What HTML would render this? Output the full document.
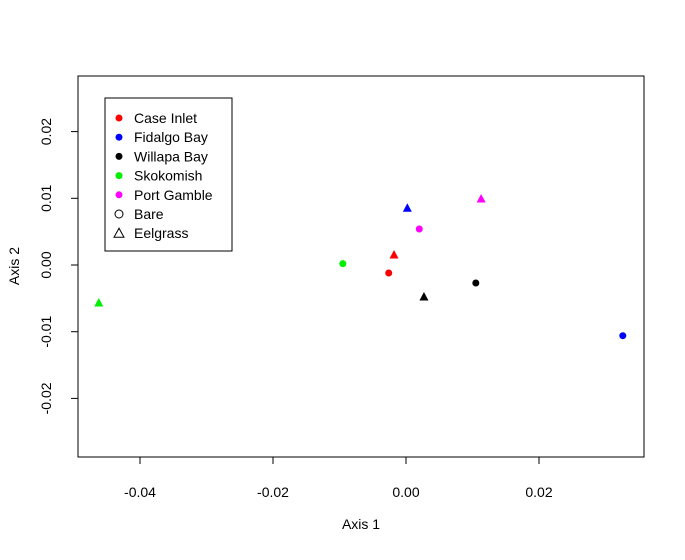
<!DOCTYPE html>
<html><head><meta charset="utf-8"><style>
body{margin:0;background:#fff}
svg text{font-family:"Liberation Sans",Arial,sans-serif;fill:#000}
</style></head><body>
<svg id="chart" width="685" height="555" xmlns="http://www.w3.org/2000/svg">
<rect x="78" y="76" width="566" height="381" fill="none" stroke="#000" stroke-width="1"/>
<g id="xaxis"></g>
<g id="yaxis"></g>
<text x="361" y="529" font-size="14" text-anchor="middle">Axis 1</text>
<text x="19" y="266" font-size="14" text-anchor="middle" transform="rotate(-90 19 266)">Axis 2</text>
<g id="points"></g>
<g id="legend">
<rect x="105" y="98" width="127" height="153" fill="#fff" stroke="#000"/>
</g>
</svg>
<script>
const sites=["Case Inlet","Fidalgo Bay","Willapa Bay","Skokomish","Port Gamble"];
const colors=["#ff0000","#0000ff","#000000","#00ee00","#ff00ff"];
const bareX=[-0.0026,0.0326,0.0105,-0.0095,0.0020];
const bareY=[-0.0012,-0.0106,-0.0027,0.0002,0.0054];
const eelX=[-0.0018,0.0002,0.0027,-0.0462,0.0113];
const eelY=[0.0015,0.0085,-0.0048,-0.0057,0.0099];
const xTicks=[-0.04,-0.02,0.00,0.02];
const xTickLabels=["-0.04","-0.02","0.00","0.02"];
const yTicks=[-0.02,-0.01,0.00,0.01,0.02];
const yTickLabels=["-0.02","-0.01","0.00","0.01","0.02"];
const NS="http://www.w3.org/2000/svg";
const sx=v=>406+v*6650;
const sy=v=>265-v*6670;
function mk(t,a,p){const e=document.createElementNS(NS,t);for(const k in a)e.setAttribute(k,a[k]);p.appendChild(e);return e;}
const xa=document.getElementById('xaxis');
mk('line',{x1:sx(xTicks[0]),x2:sx(xTicks[xTicks.length-1]),y1:457,y2:457,stroke:'#000'},xa);
xTicks.forEach((v,i)=>{
 const l=mk('line',{x1:sx(v),x2:sx(v),y1:457,y2:464,stroke:'#000'},xa);
 
 
 const t=mk('text',{x:sx(v),y:497,'font-size':14,'text-anchor':'middle'},xa);
 t.textContent=xTickLabels[i];
 
 
});
const ya=document.getElementById('yaxis');
mk('line',{x1:78,x2:78,y1:sy(yTicks[0]),y2:sy(yTicks[yTicks.length-1]),stroke:'#000'},ya);
yTicks.forEach((v,i)=>{
 const l=mk('line',{x1:71,x2:78,y1:sy(v),y2:sy(v),stroke:'#000'},ya);
 
 
 const t=mk('text',{x:51,y:sy(v),'font-size':14,'text-anchor':'middle',transform:`rotate(-90 51 ${sy(v)})`},ya);
 t.textContent=yTickLabels[i];
 
 
});
const pg=document.getElementById('points');
function tri(x,y,c,p){return mk('polygon',{points:`${x},${y-5} ${x-4.5},${y+3.5} ${x+4.5},${y+3.5}`,fill:c},p);}
sites.forEach((s,i)=>{
 const c=mk('circle',{cx:sx(bareX[i]),cy:sy(bareY[i]),r:3.5,fill:colors[i]},pg);
 
 
 const t=tri(sx(eelX[i]),sy(eelY[i]),colors[i],pg);
 
 
});
const lg=document.getElementById('legend');
const labels=sites.concat(["Bare","Eelgrass"]);
labels.forEach((s,i)=>{
 const y=118+i*19.2;
 let m;
 if(i<5) m=mk('circle',{cx:119,cy:y,r:3.5,fill:colors[i]},lg);
 else if(i==5) m=mk('circle',{cx:119,cy:y,r:4,fill:'none',stroke:'#000'},lg);
 else m=mk('polygon',{points:`119,${y-5} 114,${y+4} 124,${y+4}`,fill:'none',stroke:'#000'},lg);
 
 
 const t=mk('text',{x:134,y:y+5,'font-size':14},lg);
 t.textContent=s;
 
 
});
</script>
</body></html>
